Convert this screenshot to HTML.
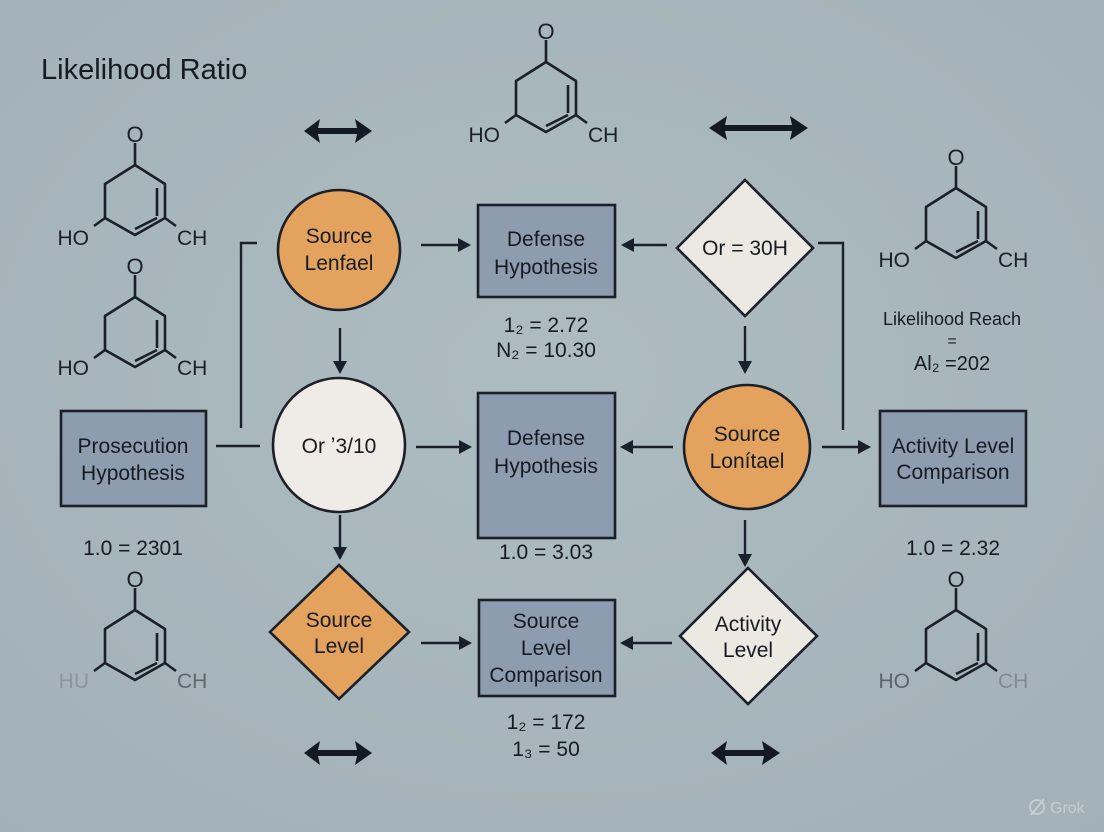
<!DOCTYPE html>
<html><head><meta charset="utf-8"><style>
html,body{margin:0;padding:0;}
body{width:1104px;height:832px;overflow:hidden;background:#a9b8bd;}
svg{display:block;font-family:"Liberation Sans","DejaVu Sans",sans-serif;}
</style></head><body>
<svg width="1104" height="832" viewBox="0 0 1104 832" xmlns="http://www.w3.org/2000/svg">
<defs>
<radialGradient id="bg" cx="50%" cy="45%" r="75%">
<stop offset="0" stop-color="#adbcc0"/><stop offset="1" stop-color="#a2b1b8"/>
</radialGradient>
<marker id="ah" markerWidth="14" markerHeight="14" refX="11" refY="7" orient="auto" markerUnits="userSpaceOnUse">
<path d="M0,0 L13,7 L0,14 Z" fill="#19202b"/>
</marker>
<g id="mol">
<line x1="0" y1="0" x2="0" y2="-22" stroke="#1a1f28" stroke-width="2.6"/>
<polyline points="0,0 30,19 30,53 0,70 -30,53 -30,19 0,0" fill="none" stroke="#1a1f28" stroke-width="2.6" stroke-linejoin="round"/>
<line x1="22" y1="23" x2="22" y2="51" stroke="#1a1f28" stroke-width="2.6"/>
<line x1="22" y1="53" x2="0" y2="64" stroke="#1a1f28" stroke-width="2.6"/>
<line x1="-30" y1="53" x2="-41" y2="61" stroke="#1a1f28" stroke-width="2.6"/>
<line x1="30" y1="53" x2="41" y2="61" stroke="#1a1f28" stroke-width="2.6"/>
<text x="0" y="-23" font-size="22" text-anchor="middle" fill="#1a1f28">O</text>
</g>
</defs>
<rect width="1104" height="832" fill="url(#bg)"/>

<text x="41" y="79" font-size="29" fill="#161b22">Likelihood Ratio</text>

<g transform="translate(546,62)"><use href="#mol"/><text x="-46" y="80" font-size="21" text-anchor="end" fill="#1a1f28">HO</text><text x="42" y="80" font-size="21" fill="#1a1f28">CH</text></g>
<g transform="translate(135,165)"><use href="#mol"/><text x="-46" y="80" font-size="21" text-anchor="end" fill="#1a1f28">HO</text><text x="42" y="80" font-size="21" fill="#1a1f28">CH</text></g>
<g transform="translate(135,297)"><use href="#mol"/><text x="-46" y="78" font-size="21" text-anchor="end" fill="#1a1f28">HO</text><text x="42" y="78" font-size="21" fill="#1a1f28">CH</text></g>
<g transform="translate(135,610)"><use href="#mol"/><text x="-46" y="78" font-size="21" text-anchor="end" fill="#8a979d">HU</text><text x="42" y="78" font-size="21" fill="#5c676e">CH</text></g>
<g transform="translate(956,188)"><use href="#mol"/><text x="-46" y="79" font-size="21" text-anchor="end" fill="#1a1f28">HO</text><text x="42" y="79" font-size="21" fill="#1a1f28">CH</text></g>
<g transform="translate(956,610)"><use href="#mol"/><text x="-46" y="78" font-size="21" text-anchor="end" fill="#59656c">HO</text><text x="42" y="78" font-size="21" fill="#7e8b91">CH</text></g>

<g fill="#141a24">
<path d="M304,131 L320,119 L318,128 L357,128 L355,119 L372,131 L355,143 L357,134 L318,134 L320,143 Z"/>
<path d="M709,128 L727,116 L725,125 L792,125 L790,116 L808,128 L790,140 L792,131 L725,131 L727,140 Z"/>
<path d="M304,753 L320,741 L318,750 L357,750 L355,741 L372,753 L355,765 L357,756 L318,756 L320,765 Z"/>
<path d="M711,753 L727,741 L725,750 L764,750 L762,741 L780,753 L762,765 L764,756 L725,756 L727,765 Z"/>
</g>

<g stroke="#19202b" stroke-width="2.4" fill="none">
<polyline points="257,243 241,243 241,428"/>
<polyline points="818,243 843,243 843,430"/>
<line x1="216" y1="446" x2="260" y2="446"/>
<line x1="421" y1="245" x2="469" y2="245" marker-end="url(#ah)"/>
<line x1="667" y1="245" x2="623" y2="245" marker-end="url(#ah)"/>
<line x1="340" y1="328" x2="340" y2="372" marker-end="url(#ah)"/>
<line x1="745" y1="326" x2="745" y2="372" marker-end="url(#ah)"/>
<line x1="416" y1="447" x2="470" y2="447" marker-end="url(#ah)"/>
<line x1="673" y1="447" x2="622" y2="447" marker-end="url(#ah)"/>
<line x1="822" y1="447" x2="869" y2="447" marker-end="url(#ah)"/>
<line x1="340" y1="515" x2="340" y2="558" marker-end="url(#ah)"/>
<line x1="745" y1="520" x2="745" y2="565" marker-end="url(#ah)"/>
<line x1="421" y1="643" x2="470" y2="643" marker-end="url(#ah)"/>
<line x1="672" y1="643" x2="622" y2="643" marker-end="url(#ah)"/>
</g>

<g stroke="#1a1f28" stroke-width="2.6">
<ellipse cx="339" cy="250" rx="61" ry="60" fill="#e3a25e"/>
<rect x="478" y="205" width="137" height="92" fill="#8e9cb0"/>
<path d="M745,180 L813,248 L745,316 L677,248 Z" fill="#ece9e3"/>
<rect x="61" y="411" width="145" height="95" fill="#8e9cb0"/>
<ellipse cx="339" cy="445" rx="66" ry="67" fill="#efebe6"/>
<rect x="478" y="393" width="137" height="145" fill="#8e9cb0"/>
<ellipse cx="747" cy="447" rx="63" ry="62" fill="#e3a25e"/>
<rect x="880" y="411" width="146" height="95" fill="#8e9cb0"/>
<path d="M339,565 L409,632 L339,699 L270,632 Z" fill="#e3a25e"/>
<rect x="479" y="600" width="136" height="96" fill="#8e9cb0"/>
<path d="M748,568 L817,636 L748,704 L680,636 Z" fill="#ece9e3"/>
</g>

<g font-size="21" fill="#161b22" text-anchor="middle">
<text x="339" y="243">Source</text><text x="339" y="270">Lenfael</text>
<text x="546" y="246">Defense</text><text x="546" y="274">Hypothesis</text>
<text x="745" y="255">Or = 30H</text>
<text x="133" y="453">Prosecution</text><text x="133" y="480">Hypothesis</text>
<text x="339" y="453">Or ʼ3/10</text>
<text x="546" y="445">Defense</text><text x="546" y="473">Hypothesis</text>
<text x="747" y="441">Source</text><text x="747" y="468">Lonítael</text>
<text x="953" y="453">Activity Level</text><text x="953" y="479">Comparison</text>
<text x="339" y="627">Source</text><text x="339" y="653">Level</text>
<text x="546" y="628">Source</text><text x="546" y="655">Level</text><text x="546" y="682">Comparison</text>
<text x="748" y="631">Activity</text><text x="748" y="657">Level</text>
</g>

<g font-size="21" fill="#161b22" text-anchor="middle">
<text x="546" y="332">1₂ = 2.72</text>
<text x="546" y="357">N₂ = 10.30</text>
<text x="133" y="555">1.0 = 2301</text>
<text x="546" y="559">1.0 = 3.03</text>
<text x="953" y="555">1.0 = 2.32</text>
<text x="952" y="325" font-size="18">Likelihood Reach</text>
<text x="952" y="346" font-size="16">=</text>
<text x="952" y="370" font-size="20">Al₂ =202</text>
<text x="546" y="729">1₂ = 172</text>
<text x="546" y="756">1₃ = 50</text>
</g>

<g fill="none" stroke="#c4cfd2" stroke-width="1.8">
<circle cx="1037" cy="807" r="7"/><line x1="1031" y1="815" x2="1044" y2="799"/>
</g>
<text x="1050" y="813" font-size="16" fill="#c4cfd2">Grok</text>
</svg>
</body></html>
